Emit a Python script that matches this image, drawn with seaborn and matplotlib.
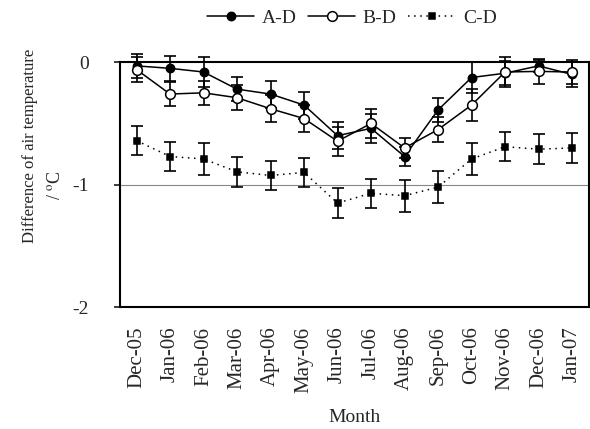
import numpy as np
import pandas as pd
import matplotlib
matplotlib.use("Agg")
import matplotlib.pyplot as plt
import seaborn as sns

months = ["Dec-05", "Jan-06", "Feb-06", "Mar-06", "Apr-06", "May-06", "Jun-06",
          "Jul-06", "Aug-06", "Sep-06", "Oct-06", "Nov-06", "Dec-06", "Jan-07"]

a_d = [-0.03, -0.05, -0.08, -0.22, -0.26, -0.35, -0.60,
       -0.54, -0.77, -0.39, -0.125, -0.09, -0.03, -0.10]
b_d = [-0.06, -0.26, -0.25, -0.29, -0.38, -0.46, -0.645,
       -0.50, -0.70, -0.55, -0.35, -0.08, -0.075, -0.08]
c_d = [-0.64, -0.77, -0.79, -0.895, -0.925, -0.90, -1.15,
       -1.07, -1.09, -1.02, -0.79, -0.69, -0.71, -0.70]

a_err = [0.10, 0.10, 0.12, 0.10, 0.11, 0.11, 0.11, 0.12, 0.08, 0.10, 0.13, 0.10, 0.05, 0.10]
b_err = [0.10, 0.10, 0.10, 0.10, 0.11, 0.11, 0.12, 0.12, 0.08, 0.10, 0.13, 0.12, 0.10, 0.10]
c_err = [0.12, 0.12, 0.13, 0.12, 0.12, 0.12, 0.12, 0.12, 0.13, 0.13, 0.13, 0.12, 0.12, 0.12]

series = ["A-D", "B-D", "C-D"]

sns.set_theme(style="white")
plt.rcParams["font.family"] = ["Liberation Serif", "DejaVu Serif"]
plt.rcParams["mathtext.fontset"] = "stix"

df = pd.DataFrame({
    "x": np.tile(np.arange(len(months)), 3),
    "value": a_d + b_d + c_d,
    "err": a_err + b_err + c_err,
    "series": np.repeat(series, len(months)),
})

fig = plt.figure(figsize=(5.9, 4.29), dpi=100)
ax = fig.add_axes([0.203, 0.284, 0.795, 0.571])

# reference line at -1
ax.axhline(-1, color="#888888", lw=0.8, zorder=1)

styles = {
    "A-D": dict(ls="-", marker="o", mfc="black", ms=6),
    "B-D": dict(ls="-", marker="o", mfc="white", ms=7),
    "C-D": dict(ls=(0, (1, 3)), marker="s", mfc="black", ms=5),
}

for name in series:
    sub = df[df["series"] == name]
    ax.errorbar(sub["x"], sub["value"], yerr=sub["err"], fmt="none",
                ecolor="black", elinewidth=1.2, capsize=4, capthick=1.2,
                clip_on=False, zorder=2)

sns.lineplot(data=df, x="x", y="value", hue="series", style="series",
             palette=["black"] * 3, dashes=False, markers=False, ax=ax,
             legend=False, lw=0)

handles = []
for name in series:
    sub = df[df["series"] == name]
    st = styles[name]
    h, = ax.plot(sub["x"], sub["value"], color="black", lw=1.1, ls=st["ls"],
                 marker=st["marker"], ms=st["ms"], mfc=st["mfc"], mec="black",
                 mew=1.1, clip_on=False, zorder=3, label=name)
    handles.append(h)

ax.set_xlim(-0.5, len(months) - 0.5)
ax.set_ylim(-2, 0)
ax.set_yticks([0, -1, -2])
ax.set_yticklabels(["0", "-1", "-2"])
ax.set_xticks(range(len(months)))
ax.set_xticklabels(months, rotation=90, fontsize=15)
ax.tick_params(axis="x", length=0, pad=14)
ax.tick_params(axis="y", length=4, direction="out", left=True, labelsize=14, pad=18)

for sp in ax.spines.values():
    sp.set_color("black")
    sp.set_linewidth(1.5)

ax.set_xlabel("")
ax.set_ylabel("")
fig.text(355 / 590, 1 - 418 / 429, "Month", fontsize=14, ha="center", va="center")
fig.text(30 / 590, 1 - 146 / 429, "Difference of air temperature", fontsize=12,
         rotation=90, ha="center", va="center")
fig.text(56 / 590, 1 - 185 / 429, "/ $^{\\mathrm{o}}$C", fontsize=13,
         rotation=90, ha="center", va="center")

fig.legend(handles=handles, labels=series, loc="center",
           bbox_to_anchor=(352 / 590, 1 - 18 / 429), ncol=3, frameon=False,
           fontsize=14, handlelength=2.4, columnspacing=0.6, handletextpad=0.4)

fig.savefig("out.png", dpi=100)
